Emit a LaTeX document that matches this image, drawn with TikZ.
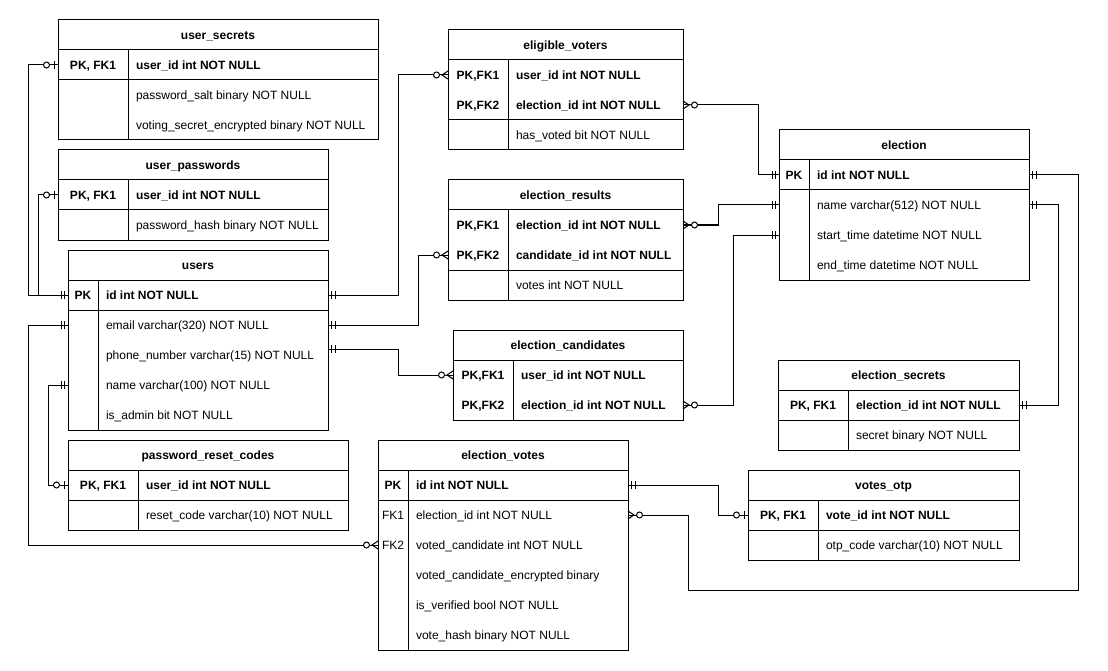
\documentclass[tikz,border=0pt]{standalone}
\usepackage{fontspec}
\setmainfont{Liberation Sans}

% Crow's-foot end markers: the tip sits on the table border, the marks lie behind it.
\pgfdeclarearrow{
  name = ERone,
  setup code = {
    \pgfarrowssettipend{0pt}
    \pgfarrowssetlineend{0pt}
    \pgfarrowssetbackend{-8pt}
    \pgfarrowssetvisualbackend{-8pt}
    \pgfarrowshullpoint{0pt}{4pt}
    \pgfarrowshullpoint{0pt}{-4pt}
    \pgfarrowshullpoint{-8pt}{4pt}
    \pgfarrowshullpoint{-8pt}{-4pt}
  },
  drawing code = {
    \pgfsetbuttcap
    \pgfpathmoveto{\pgfqpoint{-3.5pt}{-4pt}}
    \pgfpathlineto{\pgfqpoint{-3.5pt}{4pt}}
    \pgfpathmoveto{\pgfqpoint{-7pt}{-4pt}}
    \pgfpathlineto{\pgfqpoint{-7pt}{4pt}}
    \pgfusepathqstroke
  }
}
\pgfdeclarearrow{
  name = ERzone,
  setup code = {
    \pgfarrowssettipend{0pt}
    \pgfarrowssetlineend{0pt}
    \pgfarrowssetbackend{-15pt}
    \pgfarrowssetvisualbackend{-15pt}
    \pgfarrowshullpoint{0pt}{4pt}
    \pgfarrowshullpoint{0pt}{-4pt}
    \pgfarrowshullpoint{-15pt}{4pt}
    \pgfarrowshullpoint{-15pt}{-4pt}
  },
  drawing code = {
    \pgfsetbuttcap
    \pgfpathmoveto{\pgfqpoint{-3.5pt}{-4pt}}
    \pgfpathlineto{\pgfqpoint{-3.5pt}{4pt}}
    \pgfusepathqstroke
    \pgfpathcircle{\pgfqpoint{-11.5pt}{0pt}}{3pt}
    \pgfsetfillcolor{white}
    \pgfusepathqfillstroke
  }
}
\pgfdeclarearrow{
  name = ERzmany,
  setup code = {
    \pgfarrowssettipend{0pt}
    \pgfarrowssetlineend{0pt}
    \pgfarrowssetbackend{-15pt}
    \pgfarrowssetvisualbackend{-15pt}
    \pgfarrowshullpoint{0pt}{4pt}
    \pgfarrowshullpoint{0pt}{-4pt}
    \pgfarrowshullpoint{-15pt}{4pt}
    \pgfarrowshullpoint{-15pt}{-4pt}
  },
  drawing code = {
    \pgfsetbuttcap
    \pgfpathmoveto{\pgfqpoint{0pt}{4pt}}
    \pgfpathlineto{\pgfqpoint{-6pt}{0pt}}
    \pgfpathlineto{\pgfqpoint{0pt}{-4pt}}
    \pgfusepathqstroke
    \pgfpathcircle{\pgfqpoint{-11.5pt}{0pt}}{3pt}
    \pgfsetfillcolor{white}
    \pgfusepathqfillstroke
  }
}

\newcommand\erfont{\fontsize{12}{14.4}\selectfont}

\tikzset{
  every node/.style={inner sep=0pt, outer sep=0pt, text height=8.6pt, text depth=0pt},
  tbl/.style={draw, line width=1pt, rectangle, anchor=north west, text height=, text depth=},
  grid/.style={line width=1pt},
  ttl/.style={font=\erfont\bfseries},
  kb/.style={font=\erfont\bfseries},
  kn/.style={font=\erfont},
  fb/.style={font=\erfont\bfseries, anchor=west},
  fn/.style={font=\erfont, anchor=west},
  conn/.style={line width=1pt},
}

% table frame: name, x0, y0, x1, y1, key-column divider, key-block bottom, title
\newcommand\ertable[8]{%
  \node[tbl, minimum width={(#4-#2)*1pt}, minimum height={(#5-#3)*1pt}] (#1) at (#2,#3) {};
  \node[ttl] (#1-title) at ({(#2+#4)/2},{#3+15}) {#8};
  \draw[grid] (#2,{#3+30}) -- (#4,{#3+30});
  \draw[grid] (#2,#7) -- (#4,#7);
  \draw[grid] (#6,{#3+30}) -- (#6,#5);
}

\begin{document}
\begin{tikzpicture}[x=1pt, y=-1pt]
\useasboundingbox (0,0) rectangle (1108,671);

% ---------- user_secrets ----------
\ertable{usersecrets}{58}{20}{378}{140}{128}{80}{user\_secrets}
\node[kb] (us-k1) at (93,65) {PK, FK1};
\node[fb] (us-uid) at (136,65) {user\_id int NOT NULL};
\node[fn] (us-salt) at (136,95) {password\_salt binary NOT NULL};
\node[fn] (us-vse) at (136,125) {voting\_secret\_encrypted binary NOT NULL};

% ---------- user_passwords ----------
\ertable{userpasswords}{58}{150}{328}{240}{128}{210}{user\_passwords}
\node[kb] (up-k1) at (93,195) {PK, FK1};
\node[fb] (up-uid) at (136,195) {user\_id int NOT NULL};
\node[fn] (up-hash) at (136,225) {password\_hash binary NOT NULL};

% ---------- users ----------
\ertable{users}{68}{250}{328}{430}{98}{310}{users}
\node[kb] (u-k1) at (83,295) {PK};
\node[fb] (u-id) at (106,295) {id int NOT NULL};
\node[fn] (u-email) at (106,325) {email varchar(320) NOT NULL};
\node[fn] (u-phone) at (106,355) {phone\_number varchar(15) NOT NULL};
\node[fn] (u-name) at (106,385) {name varchar(100) NOT NULL};
\node[fn] (u-admin) at (106,415) {is\_admin bit NOT NULL};

% ---------- password_reset_codes ----------
\ertable{pwreset}{68}{440}{348}{530}{138}{500}{password\_reset\_codes}
\node[kb] (pr-k1) at (103,485) {PK, FK1};
\node[fb] (pr-uid) at (146,485) {user\_id int NOT NULL};
\node[fn] (pr-code) at (146,515) {reset\_code varchar(10) NOT NULL};

% ---------- eligible_voters ----------
\ertable{eligible}{448}{30}{683}{150}{508}{120}{eligible\_voters}
\node[kb] (ev-k1) at (478,75) {PK,FK1};
\node[kb] (ev-k2) at (478,105) {PK,FK2};
\node[fb] (ev-uid) at (516,75) {user\_id int NOT NULL};
\node[fb] (ev-eid) at (516,105) {election\_id int NOT NULL};
\node[fn] (ev-voted) at (516,135) {has\_voted bit NOT NULL};

% ---------- election_results ----------
\ertable{results}{448}{180}{683}{300}{508}{270}{election\_results}
\node[kb] (er-k1) at (478,225) {PK,FK1};
\node[kb] (er-k2) at (478,255) {PK,FK2};
\node[fb] (er-eid) at (516,225) {election\_id int NOT NULL};
\node[fb] (er-cid) at (516,255) {candidate\_id int NOT NULL};
\node[fn] (er-votes) at (516,285) {votes int NOT NULL};

% ---------- election_candidates ----------
\ertable{candidates}{453}{330}{683}{420}{513}{420}{election\_candidates}
\node[kb] (ec-k1) at (483,375) {PK,FK1};
\node[kb] (ec-k2) at (483,405) {PK,FK2};
\node[fb] (ec-uid) at (521,375) {user\_id int NOT NULL};
\node[fb] (ec-eid) at (521,405) {election\_id int NOT NULL};

% ---------- election ----------
\ertable{election}{779}{130}{1029}{280}{809}{190}{election}
\node[kb] (e-k1) at (794,175) {PK};
\node[fb] (e-id) at (817,175) {id int NOT NULL};
\node[fn] (e-name) at (817,205) {name varchar(512) NOT NULL};
\node[fn] (e-start) at (817,235) {start\_time datetime NOT NULL};
\node[fn] (e-end) at (817,265) {end\_time datetime NOT NULL};

% ---------- election_secrets ----------
\ertable{esecrets}{778}{360}{1019}{450}{848}{420}{election\_secrets}
\node[kb] (es-k1) at (813,405) {PK, FK1};
\node[fb] (es-eid) at (856,405) {election\_id int NOT NULL};
\node[fn] (es-secret) at (856,435) {secret binary NOT NULL};

% ---------- election_votes ----------
\ertable{evotes}{378}{440}{628}{650}{408}{500}{election\_votes}
\node[kb] (vt-k1) at (393,485) {PK};
\node[kn] (vt-k2) at (393,515) {FK1};
\node[kn] (vt-k3) at (393,545) {FK2};
\node[fb] (vt-id) at (416,485) {id int NOT NULL};
\node[fn] (vt-eid) at (416,515) {election\_id int NOT NULL};
\node[fn] (vt-cand) at (416,545) {voted\_candidate int NOT NULL};
\node[fn] (vt-enc) at (416,575) {voted\_candidate\_encrypted binary};
\node[fn] (vt-ver) at (416,605) {is\_verified bool NOT NULL};
\node[fn] (vt-hash) at (416,635) {vote\_hash binary NOT NULL};

% ---------- votes_otp ----------
\ertable{votesotp}{748}{470}{1019}{560}{818}{530}{votes\_otp}
\node[kb] (vo-k1) at (783,515) {PK, FK1};
\node[fb] (vo-vid) at (826,515) {vote\_id int NOT NULL};
\node[fn] (vo-code) at (826,545) {otp\_code varchar(10) NOT NULL};

% ---------- relationships ----------
\draw[conn, {ERone}-{ERzone}] (users.west |- u-id) -- ++(-40,0) |- (usersecrets.west |- us-uid);
\draw[conn, {ERone}-{ERzone}] (users.west |- u-id) -- ++(-30,0) |- (userpasswords.west |- up-uid);
\draw[conn, {ERone}-{ERzmany}] (users.west |- u-email) -- ++(-40,0) |- (evotes.west |- vt-cand);
\draw[conn, {ERone}-{ERzone}] (users.west |- u-name) -- ++(-20,0) |- (pwreset.west |- pr-uid);

\draw[conn, {ERone}-{ERzmany}] (users.east |- u-id) -- ++(70,0) |- (eligible.west |- ev-uid);
\draw[conn, {ERone}-{ERzmany}] (users.east |- u-email) -- ++(90,0) |- (results.west |- er-cid);
\draw[conn, {ERone}-{ERzmany}] ([yshift=6pt]users.east |- u-phone) -- ++(70,0) |- (candidates.west |- ec-uid);

\draw[conn, {ERzmany}-{ERone}] (eligible.east |- ev-eid) -- ++(75,0) |- (election.west |- e-id);
\draw[conn, {ERzmany}-{ERone}] (results.east |- er-eid) -- ++(35,0) |- (election.west |- e-name);
\draw[conn, {ERzmany}-{ERone}] (candidates.east |- ec-eid) -- ++(50,0) |- (election.west |- e-start);

\draw[conn, {ERone}-{ERzmany}] (election.east |- e-id) -- ++(49,0) -- ++(0,415) -| ++(-390,-75) -- (evotes.east |- vt-eid);
\draw[conn, {ERone}-{ERone}] (election.east |- e-name) -- ++(29,0) |- (esecrets.east |- es-eid);
\draw[conn, {ERone}-{ERzone}] (evotes.east |- vt-id) -- ++(90,0) |- (votesotp.west |- vo-vid);
\end{tikzpicture}
\end{document}
